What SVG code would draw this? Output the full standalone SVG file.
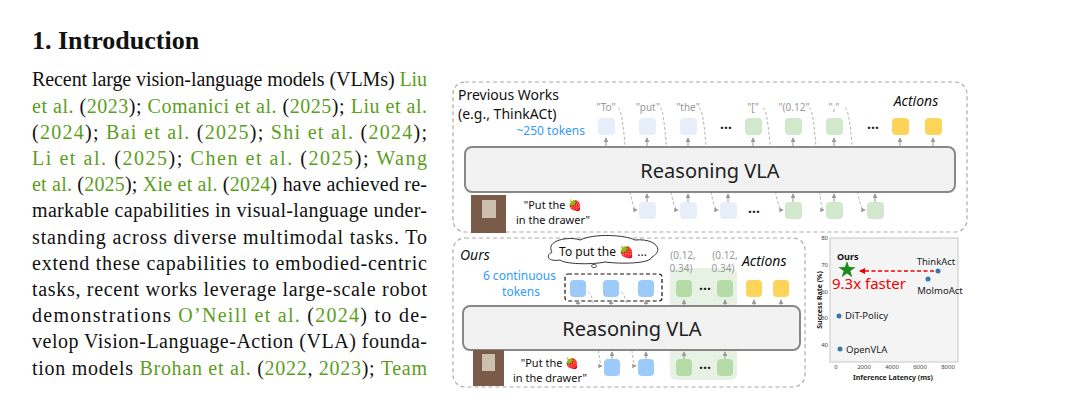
<svg xmlns="http://www.w3.org/2000/svg" width="1071" height="405" viewBox="0 0 1071 405">
<style>
.p{font-family:"Liberation Serif",serif;font-size:20px;fill:#111}
.g{fill:#5c9e1c}
.d{font-family:"Noto Sans",sans-serif}
.frame{fill:none;stroke:#aaa;stroke-width:1.2;stroke-dasharray:4 3}
.vla{fill:#f2f2f2;stroke:#888;stroke-width:2}
.tb{fill:#e6eefa}.tg{fill:#d2e8cc}.ty{fill:#fdd45a}.tB{fill:#9ccbfa}.tG{fill:#b5dca6}
.up{stroke:#999;stroke-width:1;marker-end:url(#a)}
.cv{fill:none;stroke:#aaa;stroke-width:0.9;stroke-dasharray:3 2;marker-end:url(#a)}
.lab{font-size:10px;fill:#999;text-anchor:middle}
.dots{font-size:14px;fill:#222;text-anchor:middle;font-weight:bold}
.ax{font-size:6px;fill:#444;text-anchor:middle}
</style>
<defs>
<marker id="a" viewBox="0 0 6 6" refX="5" refY="3" markerWidth="5" markerHeight="5" orient="auto"><path d="M0,0L6,3L0,6z" fill="#999"/></marker>
<marker id="r" viewBox="0 0 6 6" refX="5" refY="3" markerWidth="4" markerHeight="4" orient="auto"><path d="M0,0L6,3L0,6z" fill="#e00"/></marker>
</defs>
<rect width="1071" height="405" fill="#fff"/>
<text x="32" y="49" font-family="Liberation Serif,serif" font-size="26" font-weight="bold" fill="#111">1.  Introduction</text>
<g class="p">
<text x="32" y="86" textLength="395" lengthAdjust="spacing">Recent large vision-language models (VLMs) <tspan class="g">Liu</tspan></text>
<text x="32" y="113" textLength="395" lengthAdjust="spacing"><tspan class="g">et al.</tspan> (<tspan class="g">2023</tspan>); <tspan class="g">Comanici et al.</tspan> (<tspan class="g">2025</tspan>); <tspan class="g">Liu et al.</tspan></text>
<text x="32" y="139" textLength="395" lengthAdjust="spacing">(<tspan class="g">2024</tspan>); <tspan class="g">Bai et al.</tspan> (<tspan class="g">2025</tspan>); <tspan class="g">Shi et al.</tspan> (<tspan class="g">2024</tspan>);</text>
<text x="32" y="165" textLength="395" lengthAdjust="spacing"><tspan class="g">Li et al.</tspan> (<tspan class="g">2025</tspan>); <tspan class="g">Chen et al.</tspan> (<tspan class="g">2025</tspan>); <tspan class="g">Wang</tspan></text>
<text x="32" y="191" textLength="395" lengthAdjust="spacing"><tspan class="g">et al.</tspan> (<tspan class="g">2025</tspan>); <tspan class="g">Xie et al.</tspan> (<tspan class="g">2024</tspan>) have achieved re-</text>
<text x="32" y="217" textLength="395" lengthAdjust="spacing">markable capabilities in visual-language under-</text>
<text x="32" y="244" textLength="395" lengthAdjust="spacing">standing across diverse multimodal tasks. To</text>
<text x="32" y="270" textLength="395" lengthAdjust="spacing">extend these capabilities to embodied-centric</text>
<text x="32" y="296" textLength="395" lengthAdjust="spacing">tasks, recent works leverage large-scale robot</text>
<text x="32" y="322" textLength="395" lengthAdjust="spacing">demonstrations <tspan class="g">O’Neill et al.</tspan> (<tspan class="g">2024</tspan>) to de-</text>
<text x="32" y="348" textLength="395" lengthAdjust="spacing">velop Vision-Language-Action (VLA) founda-</text>
<text x="32" y="375" textLength="395" lengthAdjust="spacing">tion models <tspan class="g">Brohan et al.</tspan> (<tspan class="g">2022</tspan>, <tspan class="g">2023</tspan>); <tspan class="g">Team</tspan></text>
</g>

<g id="top" class="d">
<rect class="frame" x="453" y="82" width="514" height="150" rx="12"/>
<text x="458" y="100" font-size="14" fill="#111">Previous Works</text>
<text x="458" y="119" font-size="14" fill="#111">(e.g., ThinkACt)</text>
<text x="585" y="135" font-size="12" fill="#3399ff" text-anchor="end">~250 tokens</text>
<text x="916" y="106" font-size="14" font-style="italic" fill="#111" text-anchor="middle">Actions</text>
<g class="lab">
<text x="606" y="111">"To"</text><text x="648" y="111">"put"</text><text x="688" y="111">"the"</text>
<text x="753" y="111">"["</text><text x="794" y="111">"(0.12"</text><text x="834" y="111">","</text>
</g>
<rect class="tb" x="598" y="118" width="17" height="17" rx="4"/>
<rect class="tb" x="639" y="118" width="17" height="17" rx="4"/>
<rect class="tb" x="680" y="118" width="17" height="17" rx="4"/>
<text class="dots" x="726" y="133">···</text>
<rect class="tg" x="745" y="118" width="17" height="17" rx="4"/>
<rect class="tg" x="785" y="118" width="17" height="17" rx="4"/>
<rect class="tg" x="826" y="118" width="17" height="17" rx="4"/>
<text class="dots" x="873" y="133">···</text>
<rect class="ty" x="892" y="118" width="17" height="17" rx="4"/>
<rect class="ty" x="925" y="118" width="17" height="17" rx="4"/>
<g class="up">
<line x1="606" y1="147" x2="606" y2="138"/><line x1="647" y1="147" x2="647" y2="138"/><line x1="688" y1="147" x2="688" y2="138"/>
<line x1="753" y1="147" x2="753" y2="138"/><line x1="793" y1="147" x2="793" y2="138"/><line x1="834" y1="147" x2="834" y2="138"/>
<line x1="900" y1="147" x2="900" y2="138"/><line x1="933" y1="147" x2="933" y2="138"/>
<line x1="647" y1="202" x2="647" y2="194"/><line x1="688" y1="202" x2="688" y2="194"/><line x1="728" y1="202" x2="728" y2="194"/>
<line x1="793" y1="202" x2="793" y2="194"/><line x1="834" y1="202" x2="834" y2="194"/><line x1="875" y1="202" x2="875" y2="194"/>
</g>
<g class="cv">
<path d="M618,108 C626,108 626,210 637,210"/><path d="M660,108 C667,108 667,210 678,210"/><path d="M699,108 C707,108 707,210 718,210"/>
<path d="M763,108 C771,108 771,210 783,210"/><path d="M809,108 C817,108 817,210 824,210"/><path d="M845,108 C853,108 853,210 865,210"/>
</g>
<rect class="vla" x="465" y="147" width="490" height="45" rx="7"/>
<text x="710" y="178" font-size="20" fill="#222" text-anchor="middle">Reasoning VLA</text>
<rect x="471" y="195" width="35" height="38" fill="#7a5a48"/>
<rect x="482" y="200" width="14" height="18" fill="#cdbfae"/>
<text x="553" y="209" font-size="11" fill="#111" text-anchor="middle">"Put the 🍓</text>
<text x="553" y="224" font-size="11" fill="#111" text-anchor="middle">in the drawer"</text>
<rect class="tb" x="639" y="202" width="17" height="17" rx="4"/>
<rect class="tb" x="680" y="202" width="17" height="17" rx="4"/>
<rect class="tb" x="720" y="202" width="17" height="17" rx="4"/>
<text class="dots" x="754" y="217">···</text>
<rect class="tg" x="785" y="202" width="17" height="17" rx="4"/>
<rect class="tg" x="826" y="202" width="17" height="17" rx="4"/>
<rect class="tg" x="867" y="202" width="17" height="17" rx="4"/>
</g>

<g id="ours" class="d">
<rect class="frame" x="453" y="238" width="352" height="149" rx="12"/>
<text x="460" y="260" font-size="14" font-style="italic" fill="#111">Ours</text>
<path d="M552,252 C545,240 570,236 580,240 C595,233 625,235 635,240 C655,238 665,250 652,257 C650,264 620,264 605,262 C590,265 565,264 560,260 C548,262 545,256 552,252z" fill="#fff" stroke="#333" stroke-width="1"/>
<ellipse cx="594" cy="266" rx="2.5" ry="1.6" fill="#fff" stroke="#333" stroke-width="0.8"/>
<text x="603" y="256" font-size="12" fill="#111" text-anchor="middle">To put the 🍓 ...</text>
<text x="556" y="280" font-size="12" fill="#3399ff" text-anchor="end">6 continuous</text>
<text x="540" y="296" font-size="12" fill="#3399ff" text-anchor="end">tokens</text>
<rect x="670" y="268" width="67" height="112" rx="6" fill="#e8f2e4"/>
<text x="683" y="259" class="lab">(0.12,</text><text x="681" y="272" class="lab">0.34)</text>
<text x="725" y="259" class="lab">(0.12,</text><text x="723" y="272" class="lab">0.34)</text>
<text x="742" y="266" font-size="14" font-style="italic" fill="#111">Actions</text>
<rect x="565" y="274" width="97" height="27" rx="3" fill="none" stroke="#111" stroke-width="1.2" stroke-dasharray="4 2.5"/>
<rect class="tB" x="570" y="280" width="16" height="17" rx="4"/>
<rect class="tB" x="603" y="280" width="16" height="17" rx="4"/>
<rect class="tB" x="638" y="280" width="16" height="17" rx="4"/>
<rect class="tG" x="676" y="280" width="16" height="17" rx="4"/>
<text class="dots" x="705" y="294">···</text>
<rect class="tG" x="717" y="280" width="16" height="17" rx="4"/>
<rect class="ty" x="746" y="280" width="16" height="17" rx="4"/>
<rect class="ty" x="773" y="280" width="16" height="17" rx="4"/>
<g class="up">
<line x1="578" y1="306" x2="578" y2="300"/><line x1="611" y1="306" x2="611" y2="300"/><line x1="646" y1="306" x2="646" y2="300"/>
<line x1="684" y1="306" x2="684" y2="300"/><line x1="725" y1="306" x2="725" y2="300"/><line x1="754" y1="306" x2="754" y2="300"/><line x1="781" y1="306" x2="781" y2="300"/>
<line x1="612" y1="359" x2="612" y2="352"/><line x1="646" y1="359" x2="646" y2="352"/><line x1="684" y1="359" x2="684" y2="352"/><line x1="725" y1="359" x2="725" y2="352"/>
</g>
<g class="cv">
<path d="M588,292 C597,292 597,366 602,366"/><path d="M621,292 C630,292 630,366 636,366"/>
</g>
<rect class="vla" x="463" y="306" width="337" height="44" rx="7"/>
<text x="632" y="336" font-size="20" fill="#222" text-anchor="middle">Reasoning VLA</text>
<rect x="473" y="350" width="31" height="36" fill="#7a5a48"/>
<rect x="482" y="354" width="13" height="17" fill="#cdbfae"/>
<text x="550" y="367" font-size="11" fill="#111" text-anchor="middle">"Put the 🍓</text>
<text x="550" y="382" font-size="11" fill="#111" text-anchor="middle">in the drawer"</text>
<rect class="tB" x="604" y="359" width="16" height="17" rx="4"/>
<rect class="tB" x="638" y="359" width="16" height="17" rx="4"/>
<rect class="tG" x="676" y="359" width="16" height="17" rx="4"/>
<text class="dots" x="705" y="373">···</text>
<rect class="tG" x="717" y="359" width="16" height="17" rx="4"/>
</g>

<g id="chart" class="d">
<rect x="830" y="238" width="128" height="124" fill="#f4f4f4" stroke="#bbb" stroke-width="0.8"/>
<g class="ax">
<text x="828" y="240" text-anchor="end">80</text><text x="828" y="267" text-anchor="end">70</text><text x="828" y="294" text-anchor="end">60</text>
<text x="828" y="320" text-anchor="end">50</text><text x="828" y="347" text-anchor="end">40</text>
<text x="836" y="369">0</text><text x="864" y="369">2000</text><text x="892" y="369">4000</text><text x="920" y="369">6000</text><text x="948" y="369">8000</text>
</g>
<text x="893" y="380" font-size="7" font-weight="bold" fill="#222" text-anchor="middle">Inference Latency (ms)</text>
<text transform="translate(822,300) rotate(-90)" font-size="7" font-weight="bold" fill="#222" text-anchor="middle">Success Rate (%)</text>
<g fill="#3a78a8">
<circle cx="938" cy="271" r="2.5"/><circle cx="928" cy="279" r="2.5"/><circle cx="839" cy="316" r="2.5"/><circle cx="840" cy="349" r="2.5"/>
</g>
<text x="936" y="265" font-size="9.5" fill="#222" text-anchor="middle">ThinkAct</text>
<text x="940" y="294" font-size="9.5" fill="#222" text-anchor="middle">MolmoAct</text>
<text x="845" y="319" font-size="9.5" fill="#222">DiT-Policy</text>
<text x="846" y="353" font-size="9.5" fill="#222">OpenVLA</text>
<text x="837" y="260" font-size="9" font-weight="bold" fill="#111">Ours</text>
<path d="M0,-9 L2.1,-2.9 L8.6,-2.8 L3.4,1.1 L5.3,7.3 L0,3.6 L-5.3,7.3 L-3.4,1.1 L-8.6,-2.8 L-2.1,-2.9Z" transform="translate(847,270)" fill="#1e8a1e"/>
<line x1="934" y1="271" x2="860" y2="271" stroke="#e00" stroke-width="1.6" stroke-dasharray="4 2.5" marker-end="url(#r)"/>
<text x="832" y="289" font-size="15" fill="#e00">9.3x faster</text>
</g>
</svg>
